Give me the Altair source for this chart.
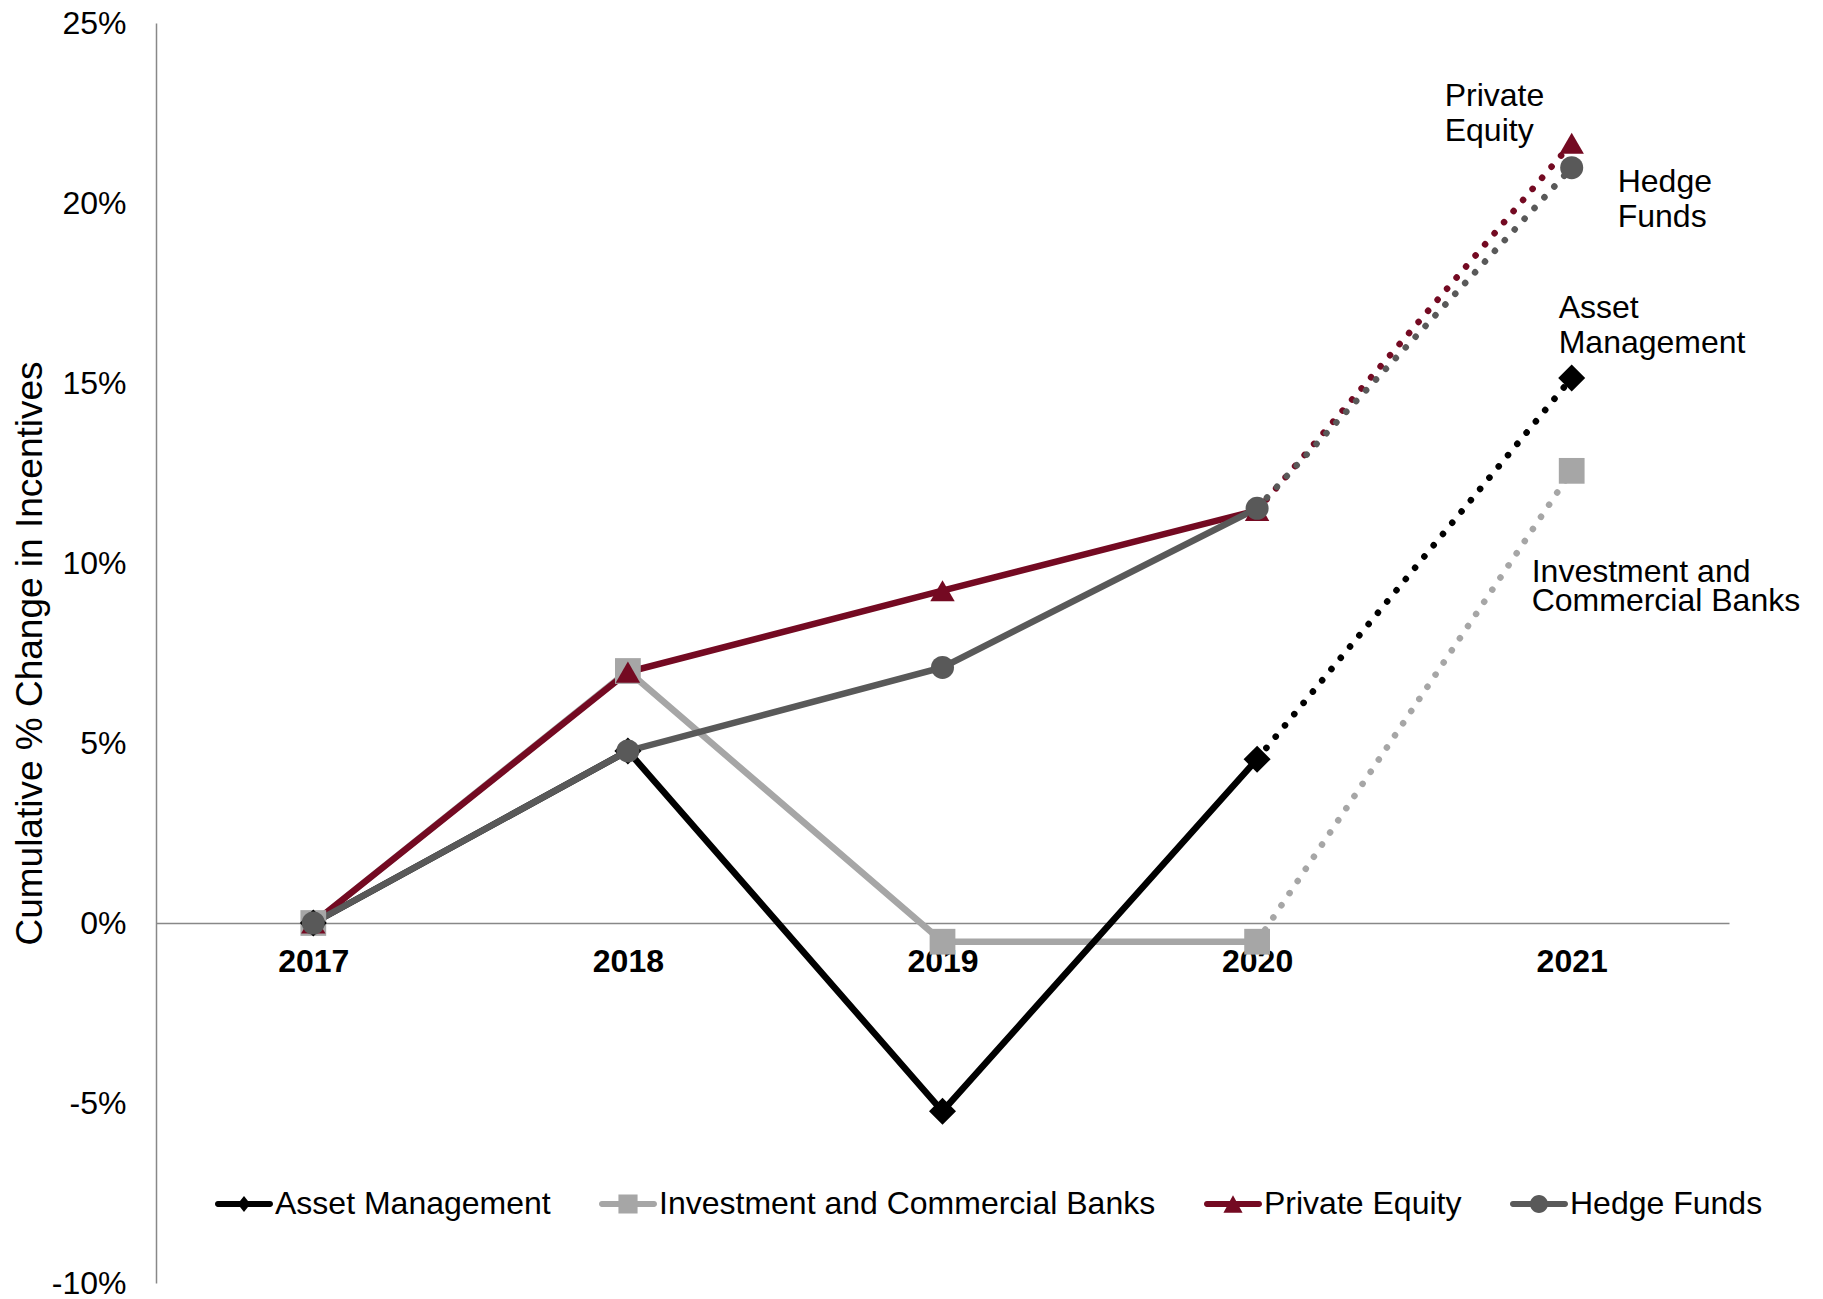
import altair as alt
import pandas as pd

# ---------------- data ----------------
years = ["2017", "2018", "2019", "2020", "2021"]
series_names = ["Asset Management", "Investment and Commercial Banks", "Private Equity", "Hedge Funds"]
asset_management = [0.0, 4.78, -5.23, 4.55, 15.14]
investment_banks = [0.0, 7.00, -0.52, -0.52, 12.56]
private_equity = [0.0, 6.97, 9.23, 11.46, 21.66]
hedge_funds = [0.0, 4.78, 7.10, 11.52, 20.98]
y_tick_values = [-10, -5, 0, 5, 10, 15, 20, 25]
annotation_series = ["Private Equity", "Hedge Funds", "Asset Management", "Investment and Commercial Banks"]
annotation_lines = [["Private", "Equity"], ["Hedge", "Funds"], ["Asset", "Management"],
                    ["Investment and", "Commercial Banks"]]

# ---------------- styling ----------------
FONT = "Liberation Sans"
FS = 32
colors = ["#000000", "#A6A6A6", "#740A22", "#595959"]
shapes = ["diamond", "square", "triangle-up", "circle"]
sizes = [730, 530, 730, 600]
line_path = "M-0.9,-0.1L0.9,-0.1A0.1,0.1 0 0 1 0.9,0.1L-0.9,0.1A0.1,0.1 0 0 1 -0.9,-0.1Z"
legend_shapes = [
    line_path + "M0,-0.28L0.22,0L0,0.28L-0.22,0Z",
    line_path + "M-0.33,-0.33L0.33,-0.33L0.33,0.33L-0.33,0.33Z",
    line_path + "M0,-0.3L0.33,0.3L-0.33,0.3Z",
    line_path + "M0.31,0A0.31,0.31 0 1 1 -0.31,0A0.31,0.31 0 1 1 0.31,0Z",
]

values_by_series = dict(zip(series_names, [asset_management, investment_banks, private_equity, hedge_funds]))
draw_order = ["Investment and Commercial Banks", "Asset Management", "Private Equity", "Hedge Funds"]

rows = []
for s in draw_order:
    for i, (yr, v) in enumerate(zip(years, values_by_series[s])):
        rows.append({"year": yr, "series": s, "value": v, "idx": i})
df = pd.DataFrame(rows)
df_solid = df[df["idx"] <= 3]
df_dotted = df[df["idx"] >= 3]

W, H = 1573, 1260
ZERO_Y = 900  # pixel of 0% inside the plot

x_axis = alt.Axis(offset=-(H - ZERO_Y), labelFontSize=FS, labelFontWeight="bold", labelFont=FONT,
                  labelColor="black", ticks=False, domainColor="#888888", domainWidth=1.5,
                  labelPadding=23, labelAngle=0, title=None, grid=False)
x_enc = alt.X("year:O", sort=years, scale=alt.Scale(domain=years, padding=0.5), axis=x_axis)
y_enc = alt.Y("value:Q", scale=alt.Scale(domain=[-10, 25], nice=False, zero=False),
              axis=alt.Axis(values=y_tick_values,
                            labelExpr="(datum.value < 0 ? '-' : '') + abs(datum.value) + '%'",
                            ticks=False, grid=False, domainColor="#888888", domainWidth=1.5,
                            labelFontSize=FS, labelFont=FONT, labelColor="black", labelPadding=30,
                            title="Cumulative % Change in Incentives", titleFont=FONT, titleFontSize=37,
                            titleFontWeight="normal", titleColor="black", titleX=-126, titleY=H / 2,
                            titleAngle=270, titleAlign="center", titleBaseline="middle"))

color_enc = alt.Color("series:N", scale=alt.Scale(domain=series_names, range=colors), legend=None)

solid = alt.Chart(df_solid).mark_line(strokeWidth=6.5).encode(x=x_enc, y=y_enc, color=color_enc)
dotted = alt.Chart(df_dotted).mark_line(strokeWidth=6.5, strokeDash=[0.1, 14.5], strokeCap="round").encode(
    x=x_enc, y=y_enc, color=color_enc)
points = alt.Chart(df).mark_point(filled=True, opacity=1).encode(
    x=x_enc, y=y_enc, color=color_enc,
    shape=alt.Shape("series:N", scale=alt.Scale(domain=series_names, range=shapes), legend=None),
    size=alt.Size("series:N", scale=alt.Scale(domain=series_names, range=sizes), legend=None),
)

legend_cfg = alt.Legend(orient="none", legendX=59, legendY=1152, direction="horizontal", title=None,
                        symbolSize=3364, symbolStrokeWidth=0, symbolOpacity=1, labelFontSize=FS,
                        labelFont=FONT, labelColor="black", labelOffset=2, columnPadding=47, labelLimit=0)
df_legend = pd.DataFrame({"Series": series_names, "year": "2017", "value": 0.0})
legend_layer = alt.Chart(df_legend).mark_point(filled=True, opacity=0).encode(
    x=alt.X("year:O", sort=years, axis=x_axis), y=alt.Y("value:Q"),
    color=alt.Color("Series:N", scale=alt.Scale(domain=series_names, range=colors), legend=legend_cfg,
                    sort=series_names),
    shape=alt.Shape("Series:N", scale=alt.Scale(domain=series_names, range=legend_shapes), legend=legend_cfg,
                    sort=series_names),
)

offsets = {
    "Private Equity": (-127, -47.5, 35),
    "Hedge Funds": (46, 14.5, 35),
    "Asset Management": (-13, -69.5, 35),
    "Investment and Commercial Banks": (-40, 101.5, 29),
}
text_layers = []
for s, lines in zip(annotation_series, annotation_lines):
    dx, dy, lh = offsets[s]
    d = pd.DataFrame({"label": [lines], "year": [years[-1]], "value": [values_by_series[s][-1]]})
    text_layers.append(
        alt.Chart(d).mark_text(align="left", baseline="middle", dx=dx, dy=dy, fontSize=FS, font=FONT,
                               lineHeight=lh, color="black").encode(
            x=alt.X("year:O", sort=years, axis=x_axis), y=alt.Y("value:Q"), text="label"))

chart = alt.layer(solid, dotted, points, legend_layer, *text_layers).resolve_scale(
    color="independent", shape="independent", size="independent"
).properties(
    width=W, height=H,
    autosize=alt.AutoSizeParams(type="none"),
    padding={"left": 156, "top": 23, "right": 94, "bottom": 16},
    background="white",
).configure_view(stroke=None)

chart.save("out.html", embed_options={"renderer": "svg", "actions": False})
